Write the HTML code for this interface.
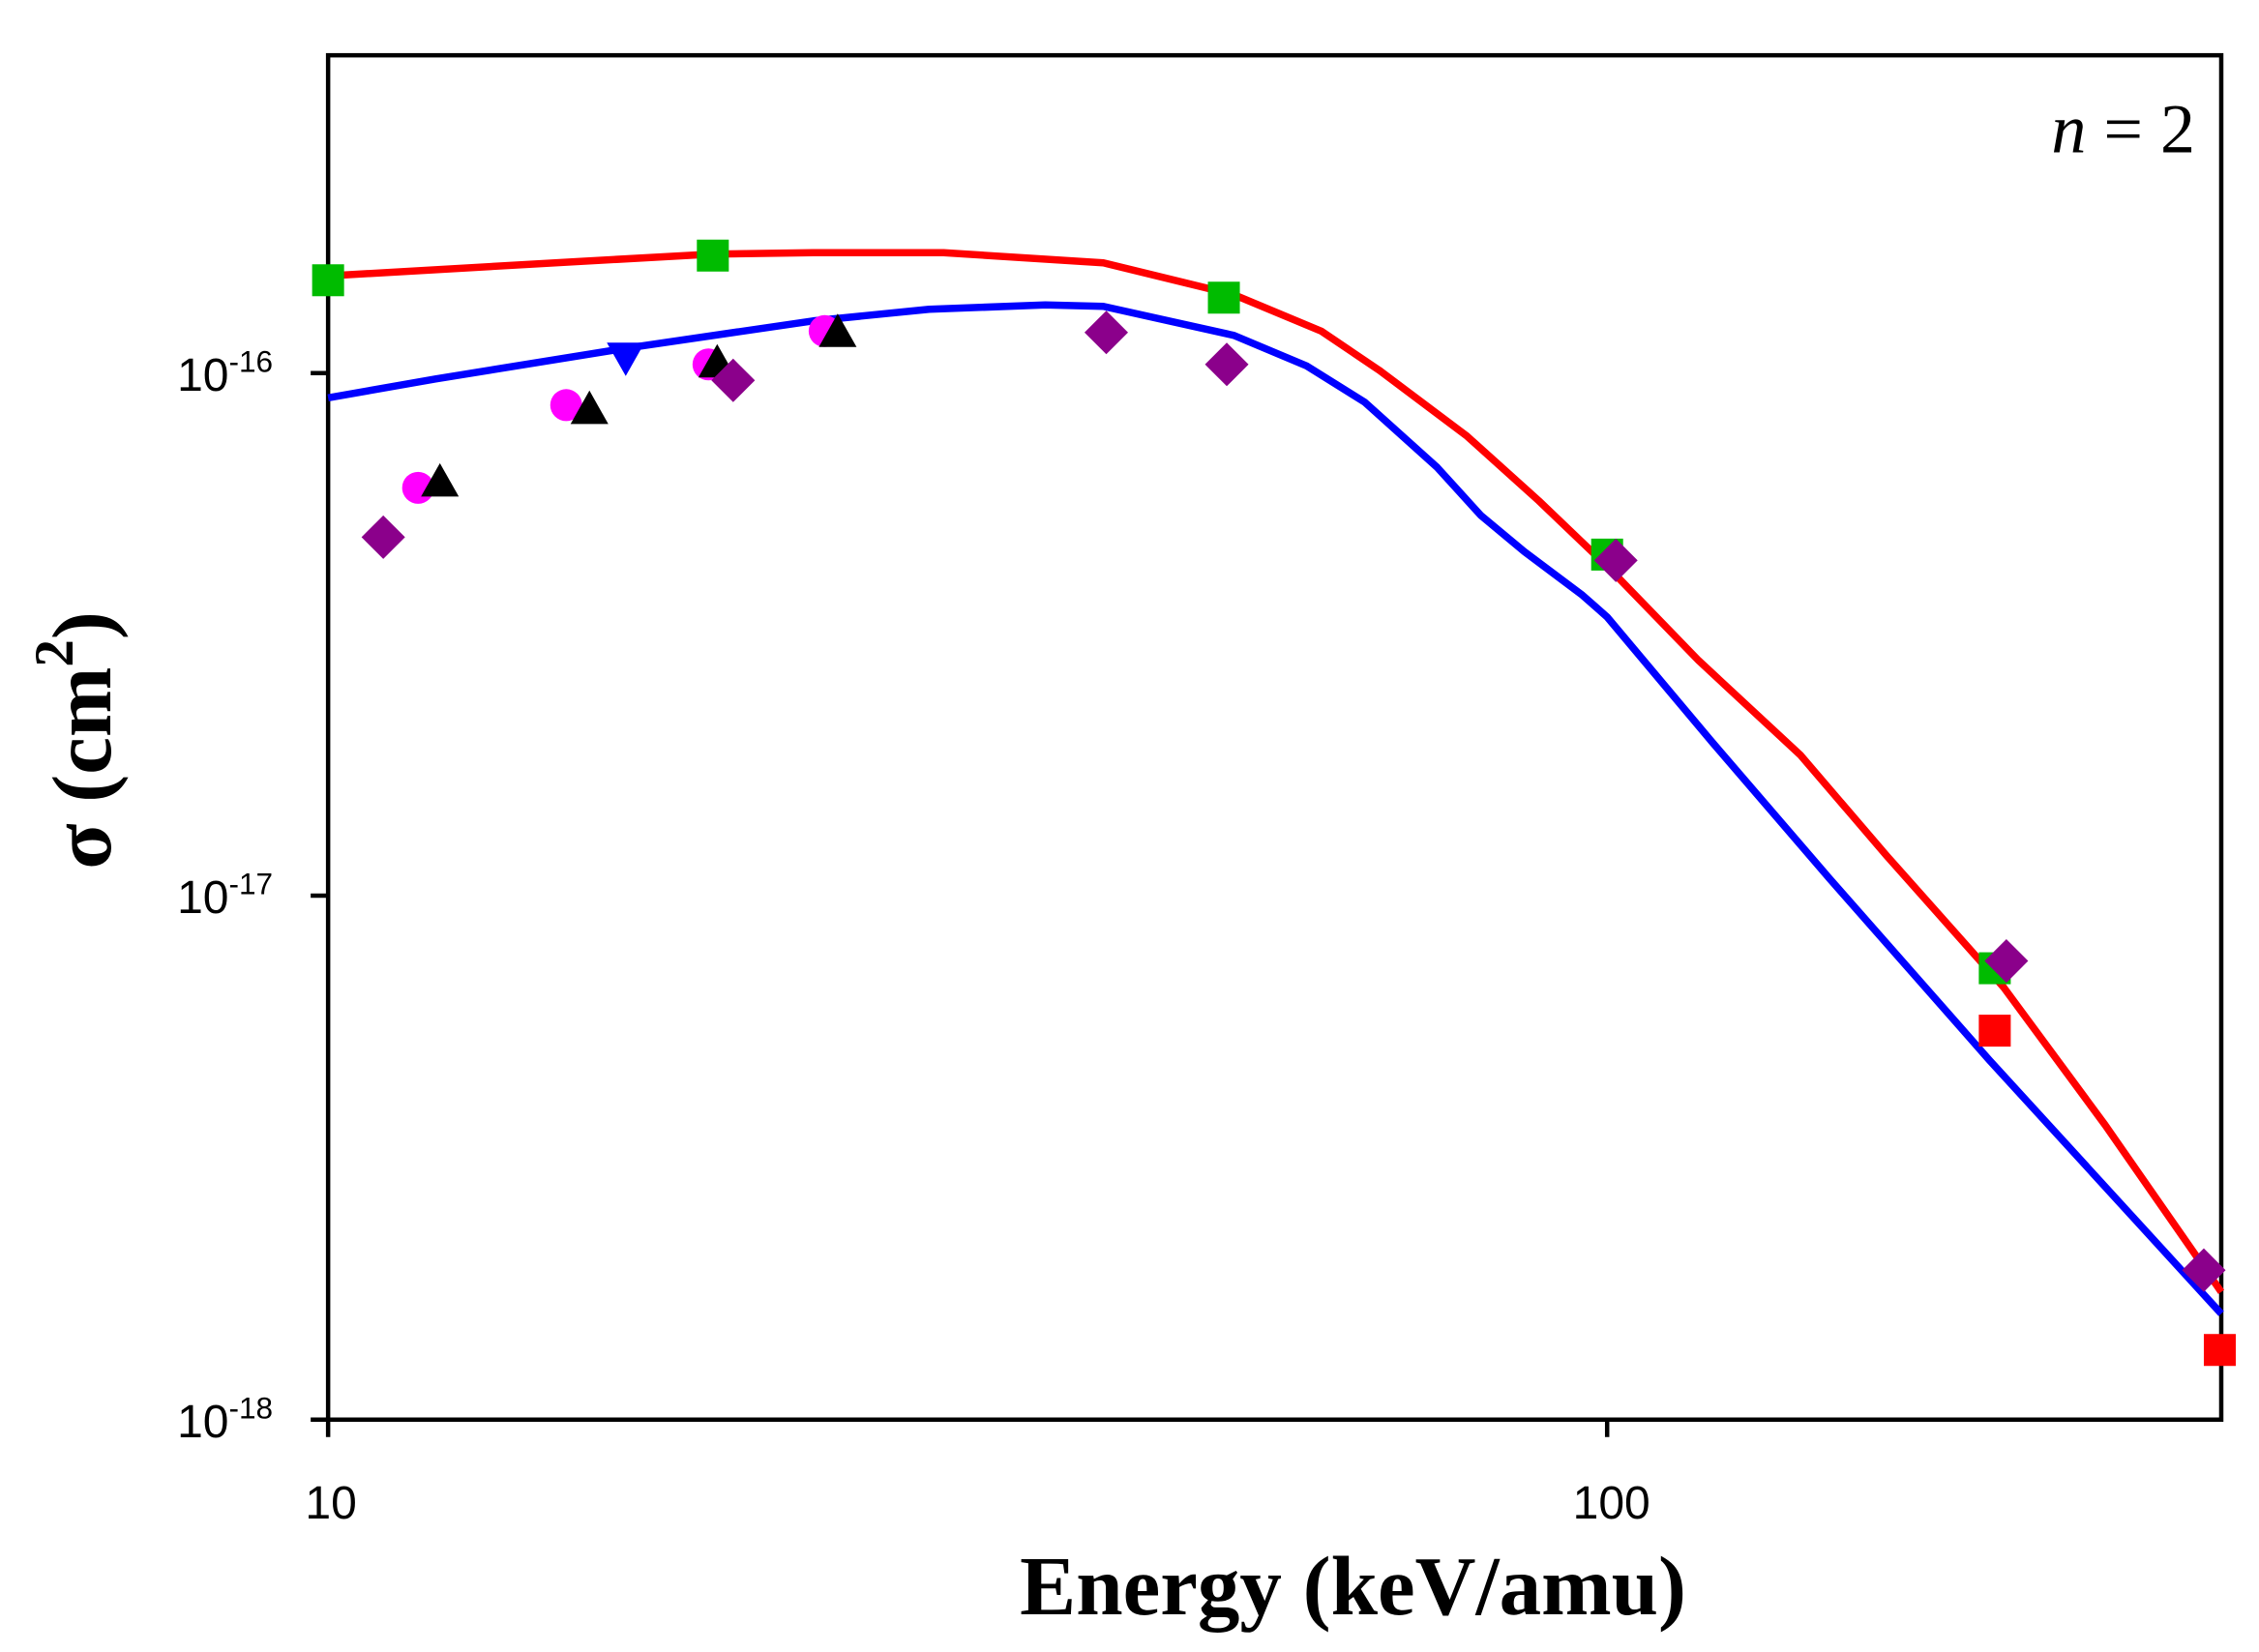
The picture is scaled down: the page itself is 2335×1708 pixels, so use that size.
<!DOCTYPE html>
<html><head><meta charset="utf-8"><style>html,body{margin:0;padding:0;background:#fff}svg{display:block}</style></head>
<body>
<svg width="2335" height="1708" viewBox="0 0 1556 1138" xmlns="http://www.w3.org/2000/svg">
<rect width="1556" height="1138" fill="#fff"/>
<g stroke="#000" stroke-width="3" fill="none">
<rect x="226" y="38" width="1304" height="940"/>
<line x1="214" y1="257" x2="226" y2="257"/>
<line x1="214" y1="617" x2="226" y2="617"/>
<line x1="214" y1="978" x2="226" y2="978"/>
<line x1="226" y1="978" x2="226" y2="990"/>
<line x1="1107" y1="978" x2="1107" y2="990"/>
</g>
<g font-family="Liberation Sans, sans-serif" font-size="32" fill="#000">
<text x="228" y="1046" text-anchor="middle">10</text>
<text x="1110" y="1046" text-anchor="middle">100</text>
<text x="122" y="269">10<tspan font-size="21" dy="-13">-16</tspan></text>
<text x="122" y="629">10<tspan font-size="21" dy="-13">-17</tspan></text>
<text x="122" y="990">10<tspan font-size="21" dy="-13">-18</tspan></text>
</g>
<text x="932" y="1112" text-anchor="middle" font-family="Liberation Serif, serif" font-weight="bold" font-size="58">Energy (keV/amu)</text>
<text transform="translate(76,510) rotate(-90)" text-anchor="middle" font-family="Liberation Serif, serif" font-weight="bold" font-size="58">σ (cm<tspan font-size="38" dy="-26">2</tspan><tspan dy="26">)</tspan></text>
<text x="1512" y="105" text-anchor="end" font-family="Liberation Serif, serif" font-size="48"><tspan font-style="italic">n</tspan> = 2</text>
<polyline fill="none" stroke="#ff0000" stroke-width="5" stroke-linejoin="round" points="226,190 400,180 490,175 560,174 650,174 760,181 850,203 910,228 950,255 1010,300 1060,345 1107,390 1170,455 1240,520 1300,590 1380,680 1450,775 1530,890"/>
<polyline fill="none" stroke="#0000ff" stroke-width="5" stroke-linejoin="round" points="226,274 300,261 430,240 560,221 640,213 720,210 760,211 850,231 900,252 940,277 990,322 1020,355 1050,380 1090,410 1107,425 1180,512 1260,605 1370,730 1530,905"/>
<g fill="#00bb00">
<rect x="215" y="182" width="22" height="22"/><rect x="480" y="165" width="22" height="22"/><rect x="832" y="194" width="22" height="22"/><rect x="1096" y="371" width="22" height="22"/><rect x="1363" y="656" width="22" height="22"/>
</g>
<g fill="#ff0000">
<rect x="1363" y="699" width="22" height="22"/><rect x="1518" y="919" width="22" height="22"/>
</g>
<g fill="#ff00ff">
<circle cx="288" cy="336" r="11"/><circle cx="390" cy="279" r="11"/><circle cx="488" cy="251" r="11"/><circle cx="568" cy="228" r="11"/>
</g>
<g fill="#000">
<polygon points="303,319 316,342 290,342"/><polygon points="406,269 419,292 393,292"/><polygon points="494,237 507,260 481,260"/><polygon points="577,216 590,239 564,239"/>
</g>
<polygon fill="#0000ff" points="431,259 444,236 418,236"/>
<g fill="#8b008b">
<polygon points="264,355 279,370 264,385 249,370"/><polygon points="505,247 520,262 505,277 490,262"/><polygon points="762,214 777,229 762,244 747,229"/><polygon points="845,236 860,251 845,266 830,251"/><polygon points="1113,371 1128,386 1113,401 1098,386"/><polygon points="1382,647 1397,662 1382,677 1367,662"/><polygon points="1518,860 1533,875 1518,890 1503,875"/>
</g>
</svg>
</body></html>
